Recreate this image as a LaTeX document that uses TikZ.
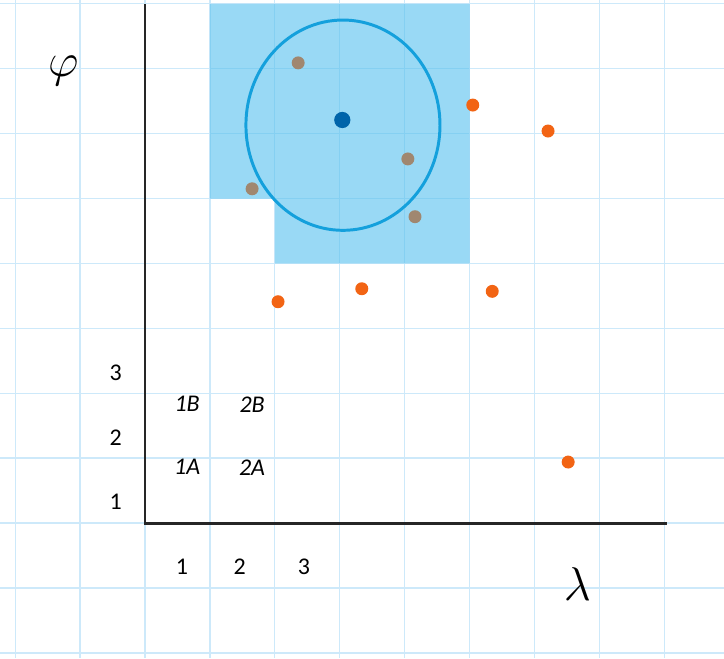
\documentclass[tikz,border=0pt]{standalone}
\usepackage{fontspec}
\setmainfont{Carlito}
\usepackage{tikz}
\usetikzlibrary{positioning}
\usetikzlibrary{shapes.geometric}
\usepackage{xcolor}
\definecolor{gridblue}{RGB}{205,233,250}
\definecolor{zonefill}{RGB}{85,192,238}
\definecolor{ringblue}{RGB}{20,160,220}
\definecolor{centreblue}{RGB}{0,100,170}
\definecolor{dotbrown}{RGB}{160,135,112}
\definecolor{dotorange}{RGB}{242,100,20}

\begin{document}
\begin{tikzpicture}[>=stealth,scale=1.0,
    axisline/.style={line width=1.3pt,black!85},
    bdot/.style={circle,fill=dotbrown,inner sep=0pt,minimum size=0.2cm},
    odot/.style={circle,fill=dotorange,inner sep=0pt,minimum size=0.2cm},
    tick/.style={font=\fontsize{10.5}{12}\selectfont},
    cell/.style={font=\fontsize{10.5}{12}\selectfont\itshape}]
  \useasboundingbox (-2.234,-2.08) rectangle (8.921,8.059);
  % squared paper
  \draw[gridblue,line width=0.6pt] (-2.234,-2.08) grid (8.921,8.059);
  % search zone
  \fill[zonefill,fill opacity=0.6] (1,8) -- (5,8) -- (5,4) -- (2,4) -- (2,5) -- (1,5) -- cycle;
  % axes
  \coordinate (O) at (0,0);
  \coordinate (ytop) at (0,7.99);
  \coordinate (xend) at (8.05,0);
  \draw[axisline] (ytop) -- (O) -- (xend);
  \node (phi) at (-1.26,6.96) {\fontsize{20}{24}\selectfont $\varphi$};
  \node (lambda) at (6.66,-0.94) {\fontsize{20}{24}\selectfont $\lambda$};
  % tick numbers
  \foreach \n in {1,2,3} {
    \node[tick] (ylab\n) at (-0.45,{0.33+0.99*(\n-1)}) {\n};
  }
  \node[tick] (xlab1) at (0.57,-0.68) {1};
  \node[tick] (xlab2) at (1.46,-0.68) {2};
  \node[tick] (xlab3) at (2.45,-0.68) {3};
  % cell names
  \node[cell] (c1A) at (0.65,0.86) {1A};
  \node[cell] (c2A) at (1.65,0.86) {2A};
  \node[cell] (c1B) at (0.65,1.83) {1B};
  \node[cell] (c2B) at (1.65,1.83) {2B};
  % search circle and its centre
  \node[draw=ringblue,line width=1.3pt,ellipse,inner sep=0pt,
        minimum width=2.99cm,minimum height=3.24cm] (ring) at (3.05,6.13) {};
  \node[circle,fill=centreblue,inner sep=0pt,minimum size=0.25cm] (ctr) at (3.04,6.21) {};
  % points inside the zone
  \foreach \px/\py [count=\i] in {2.36/7.09,1.65/5.15,4.05/5.61,4.16/4.72}
    \node[bdot] (b\i) at (\px,\py) {};
  % points outside
  \foreach \px/\py [count=\i] in {5.05/6.44,6.21/6.04,2.05/3.41,3.34/3.61,5.35/3.57,6.52/0.94}
    \node[odot] (o\i) at (\px,\py) {};
\end{tikzpicture}
\end{document}
